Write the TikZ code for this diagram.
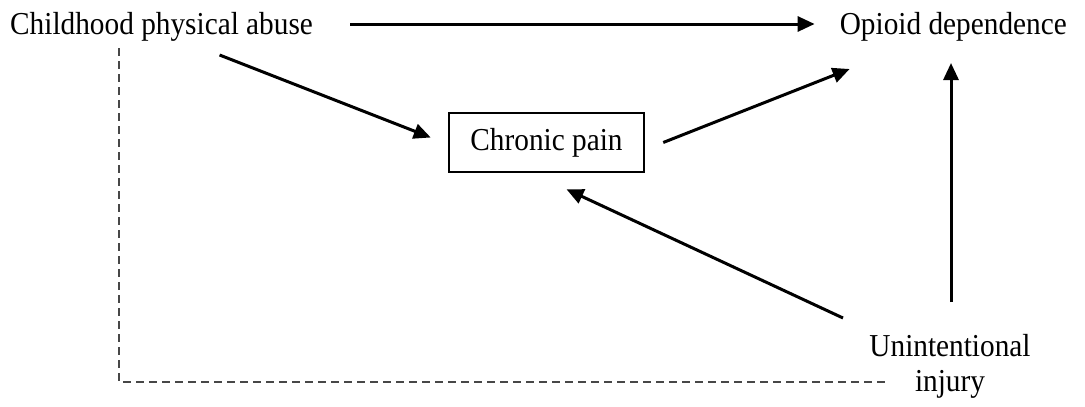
\documentclass[tikz,border=0pt]{standalone}
\usepackage{fontspec}
\usepackage{graphicx}
\setmainfont{Liberation Serif}
\usetikzlibrary{arrows.meta}
\newcommand\tallt[1]{\scalebox{1}[1.09]{#1}}
\begin{document}
\begin{tikzpicture}[x=1pt,y=-1pt,
  lbl/.style={inner sep=0pt,font=\fontsize{29.3}{35}\selectfont},
  boxnode/.style={draw,line width=2.5pt,minimum width=195pt,minimum height=59pt,inner sep=0pt,font=\fontsize{29.3}{35}\selectfont},
  arr/.style={line width=3pt,-{Triangle[length=17pt,width=15pt]}},
  dashline/.style={draw=black!72,line width=1.9pt,dash pattern=on 8pt off 5pt}]
\useasboundingbox (0,0) rectangle (1085,407);
\node[lbl,anchor=base west] (cpa) at (10,34) {\tallt{Childhood physical abuse}};
\node[lbl,anchor=base east] (od) at (1067,34) {\tallt{Opioid dependence}};
\node[boxnode] (cp) at (546.5,142.5) {\tallt{Chronic pain}};
\node[lbl,align=center] (ui) at (950,366) {\tallt{Unintentional}\\\tallt{injury}};
\path ([shift={(1,-64)}]ui.center) coordinate (uitop)
      ([shift={(0,29)}]od.base) coordinate (odbot);
\draw[arr] ([shift={(37,-10)}]cpa.base east) -- ([shift={(-25,-10)}]od.base west);
\draw[arr] ([shift={(58,21)}]cpa.base) -- ([shift={(-17,-5)}]cp.west);
\draw[arr] ([shift={(18,0)}]cp.east) -- ([shift={(10,35)}]od.base west);
\draw[arr] ([shift={(-107,-48)}]ui.center) -- ([shift={(20,16)}]cp.south);
\draw[arr] (uitop) -- (uitop |- odbot);
\draw[dashline] ([shift={(109,14)}]cpa.base west) |- ([shift={(-63,16)}]ui.center);
\end{tikzpicture}
\end{document}
